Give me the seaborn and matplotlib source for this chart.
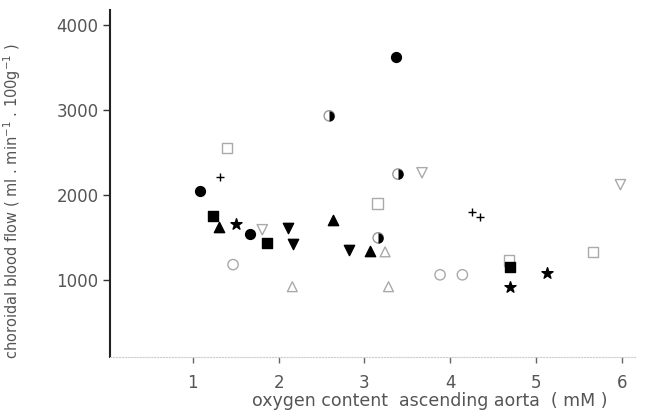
import numpy as np
import pandas as pd
import seaborn as sns
import matplotlib.pyplot as plt
from matplotlib.markers import MarkerStyle

# values (x: O2 content mM, y: flow)
filled_circle_x = [1.08, 1.67, 3.37]
filled_circle_y = [2050, 1540, 3620]
plus_x = [1.32, 4.25, 4.34]
plus_y = [2210, 1800, 1740]
open_square_x = [1.40, 3.15, 4.68, 5.66]
open_square_y = [2550, 1900, 1230, 1330]
filled_square_x = [1.24, 1.86, 4.69]
filled_square_y = [1750, 1435, 1150]
tri_up_x = [1.31, 2.63, 3.07]
tri_up_y = [1625, 1705, 1340]
tri_down_x = [2.11, 2.17, 2.82]
tri_down_y = [1610, 1425, 1350]
star_x = [1.50, 4.69, 5.13]
star_y = [1660, 920, 1080]
half_circle_x = [2.59, 3.39, 3.16]
half_circle_y = [2930, 2245, 1495]
open_tri_down_x = [1.81, 3.67, 5.98]
open_tri_down_y = [1590, 2260, 2120]
open_tri_up_x = [2.16, 3.28, 3.24]
open_tri_up_y = [920, 920, 1330]
open_circle_x = [1.47, 3.88, 4.14]
open_circle_y = [1180, 1060, 1060]

xticks = [1, 2, 3, 4, 5, 6]
yticks = [1000, 2000, 3000, 4000]

sns.set_style('white')
plt.rcParams['font.family'] = ['DejaVu Sans']

fig = plt.figure(figsize=(6.46, 4.16), dpi=100)
ax = fig.add_axes([0.170, 0.142, 0.813, 0.834])

txt = '#555555'
groups = [
    (open_square_x, open_square_y, 's', 'none', '#aaaaaa', 55),
    (open_tri_down_x, open_tri_down_y, 'v', 'none', '#aaaaaa', 55),
    (open_tri_up_x, open_tri_up_y, '^', 'none', '#aaaaaa', 50),
    (open_circle_x, open_circle_y, 'o', 'none', '#aaaaaa', 55),
    (half_circle_x, half_circle_y, 'o', 'none', '#999999', 55),
    (filled_circle_x, filled_circle_y, 'o', 'black', 'black', 50),
    (filled_square_x, filled_square_y, 's', 'black', 'black', 50),
    (tri_up_x, tri_up_y, '^', 'black', 'black', 55),
    (tri_down_x, tri_down_y, 'v', 'black', 'black', 55),
    (star_x, star_y, '*', 'black', 'black', 70),
    (plus_x, plus_y, '+', 'black', 'black', 30),
]
for gx, gy, m, fc, ec, s in groups:
    df = pd.DataFrame({'x': gx, 'y': gy})
    sns.scatterplot(data=df, x='x', y='y', marker=m, s=s, ax=ax,
                    facecolor=fc, edgecolor=ec, linewidth=1.0)

# right half of the half-filled circles
df = pd.DataFrame({'x': half_circle_x, 'y': half_circle_y})
sns.scatterplot(data=df, x='x', y='y', marker=MarkerStyle('o', fillstyle='right'),
                s=55, ax=ax, color='black', linewidth=0)

ax.set_xlim(0.035, 6.15)
ax.set_ylim(94, 4175)
ax.set_xticks(xticks)
ax.set_yticks(yticks)
ax.set_xticklabels([str(t) for t in xticks], color=txt, fontsize=12)
ax.set_yticklabels([str(t) for t in yticks], color=txt, fontsize=12)
ax.tick_params(axis='y', left=True, direction='out', length=5, width=1,
               color='#333333', pad=3)
ax.tick_params(axis='x', bottom=True, direction='out', length=4, width=1,
               color='#666666', pad=8)

ax.set_xlabel('oxygen content  ascending aorta  ( mM )', color=txt, fontsize=12.5)
ax.xaxis.set_label_coords(0.61, -0.1)
ax.set_ylabel('choroidal blood flow ( ml . min$^{-1}$ . 100g$^{-1}$ )', color=txt,
              fontsize=10.5)
ax.yaxis.set_label_coords(-0.165, 0.45)

sns.despine(ax=ax, top=True, right=True)
ax.spines['left'].set_color('#222222')
ax.spines['left'].set_linewidth(1.5)
ax.spines['bottom'].set_color('#cccccc')
ax.spines['bottom'].set_linewidth(0.8)
ax.spines['bottom'].set_linestyle(':')

fig.savefig('out.png', dpi=100)
